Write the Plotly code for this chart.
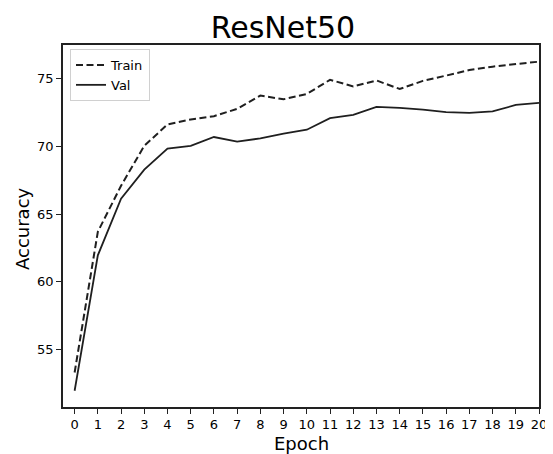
import plotly.graph_objects as go

epochs = list(range(21))
train_acc = [53.3, 63.7, 67.1, 70.05, 71.63, 72.0, 72.24, 72.78, 73.76, 73.49, 73.88,
             74.93, 74.44, 74.88, 74.25, 74.85, 75.24, 75.65, 75.9, 76.07, 76.27]
val_acc = [51.95, 61.96, 66.14, 68.29, 69.85, 70.05, 70.7, 70.36, 70.6, 70.95, 71.24,
           72.1, 72.34, 72.93, 72.86, 72.73, 72.54, 72.49, 72.59, 73.07, 73.22]
y_ticks = [55, 60, 65, 70, 75]

FONT = "DejaVu Sans"
W, H = 545, 446  # page body has an 8px margin
# plot area in screenshot pixels: x 63..539, y 45..407
PL, PR, PT, PB = 63, 539, 45, 407
PW, PH = PR - PL, PB - PT

fig = go.Figure()
fig.add_trace(go.Scatter(x=epochs, y=train_acc, mode="lines", name="Train",
                         line=dict(color="#1f1f1f", width=2, dash="7px,3.5px")))
fig.add_trace(go.Scatter(x=epochs, y=val_acc, mode="lines", name="Val",
                         line=dict(color="#1f1f1f", width=1.8)))

fig.update_layout(
    width=W, height=H,
    margin=dict(l=PL - 8, r=W - (PR - 8), t=PT - 8, b=H - (PB - 8)),
    paper_bgcolor="white", plot_bgcolor="white",
    font=dict(family=FONT, color="black", size=13),
    title=dict(text="ResNet50", x=(283 - 8) / W, xref="container", xanchor="center",
               y=1 - 19 / H, yref="container", yanchor="middle",
               font=dict(family=FONT, size=30, color="black")),
    showlegend=True,
    legend=dict(x=(70 - PL) / PW, y=1 - (49 - PT) / PH, xanchor="left", yanchor="top",
                bgcolor="rgba(255,255,255,0.8)", bordercolor="#d0d0d0", borderwidth=1,
                font=dict(family=FONT, size=13), tracegroupgap=0,
                itemwidth=30),
    annotations=[
        dict(text="Accuracy", xref="paper", yref="paper",
             x=(22 - PL) / PW, y=1 - (229 - PT) / PH, xanchor="center", yanchor="middle",
             textangle=-90, showarrow=False, font=dict(size=18)),
        dict(text="Epoch", xref="paper", yref="paper",
             x=(301 - PL) / PW, y=1 - (444 - PT) / PH, xanchor="center", yanchor="middle",
             showarrow=False, font=dict(size=18)),
    ],
)
fig.update_xaxes(range=[-0.5, 20], tickmode="array", tickvals=epochs,
                 ticktext=[str(e) for e in epochs], automargin=False,
                 showgrid=False, zeroline=False, showline=True, mirror=True,
                 linecolor="#222", linewidth=1.5, ticks="outside", ticklen=5,
                 tickcolor="#222", tickfont=dict(size=13))
fig.update_yaxes(range=[50.75, 77.5], tickmode="array", tickvals=y_ticks,
                 ticktext=[str(v) for v in y_ticks], automargin=False,
                 showgrid=False, zeroline=False, showline=True, mirror=True,
                 linecolor="#222", linewidth=1.5, ticks="outside", ticklen=5,
                 tickcolor="#222", tickfont=dict(size=13))

fig.write_html("out.html")
